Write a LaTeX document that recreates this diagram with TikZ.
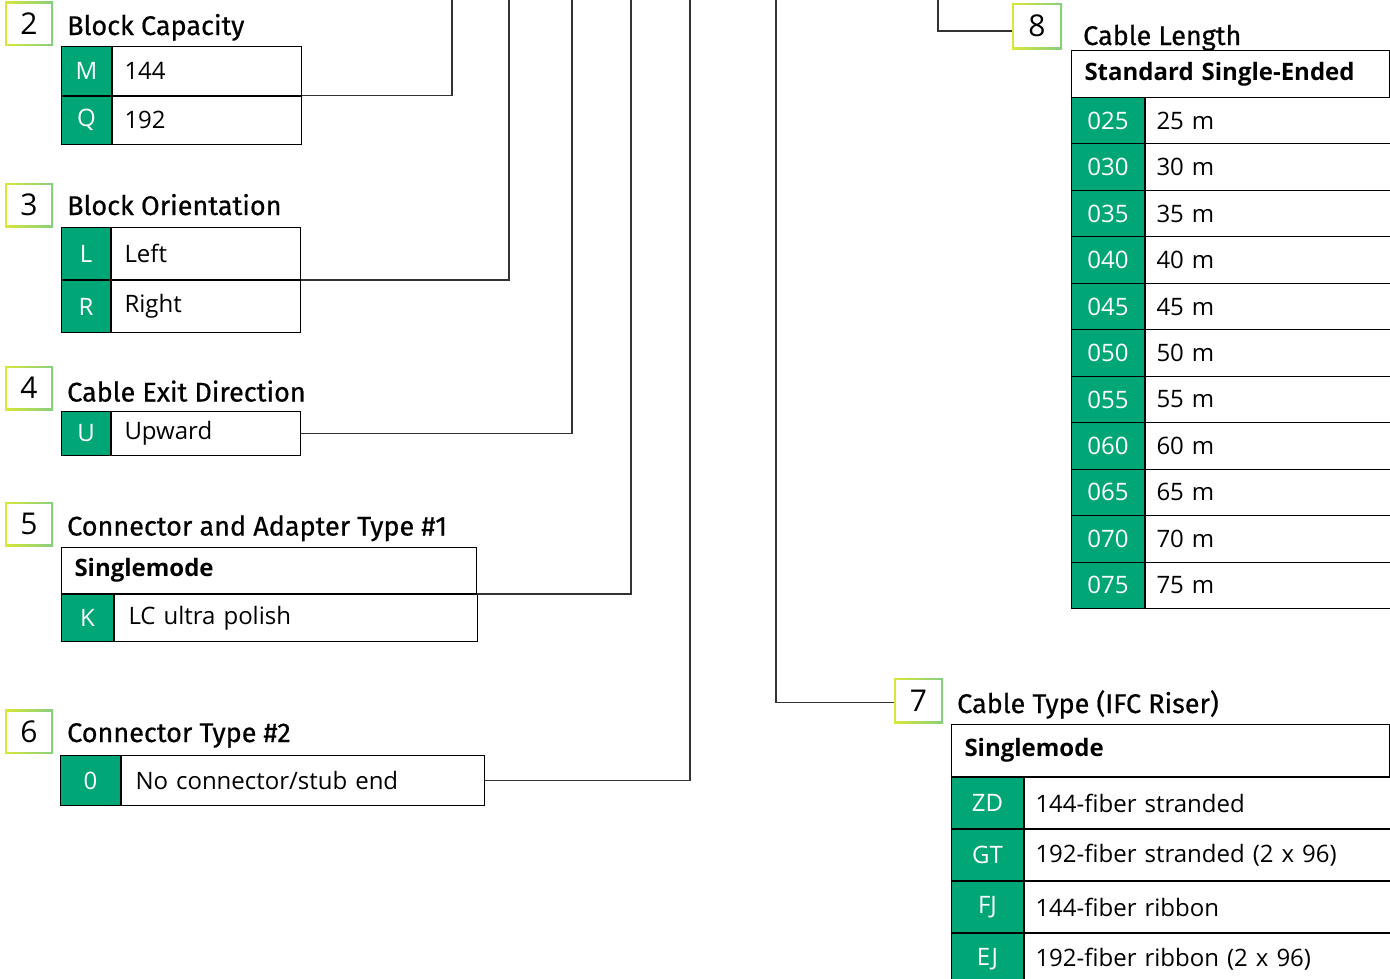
\documentclass[tikz,border=0pt]{standalone}
\usepackage{fontspec}
\setmainfont{Open Sans}
\newfontfamily\headfont[FakeBold=0.6]{Fira Sans}
\IfFontExistsTF{Open Sans SemiBold}{\newfontfamily\semifont{Open Sans SemiBold}}{\newcommand{\semifont}{\bfseries}}
\usepackage{tikz}
\usetikzlibrary{calc}

\definecolor{codegreen}{HTML}{00A676}
\definecolor{boxyellow}{HTML}{D8E838}
\definecolor{boxgreen}{HTML}{86CE80}
\definecolor{wiregray}{HTML}{333333}

\newcommand{\cellfont}{\fontsize{24}{28}\selectfont}
\newcommand{\numfont}{\fontsize{30}{34}\selectfont}
\newcommand{\titlefont}{\headfont\fontsize{27}{32}\selectfont}

\tikzset{
    numbox/.style={minimum width=48pt, minimum height=44pt, inner sep=0pt, font=\numfont,
        path picture={
            \shade[left color=boxyellow, right color=boxgreen]
                (path picture bounding box.south west) rectangle (path picture bounding box.north east);
            \fill[white] ([shift={(2pt,2pt)}]path picture bounding box.south west)
                rectangle ([shift={(-2pt,-2pt)}]path picture bounding box.north east);
        }},
    heading/.style={anchor=base west, inner sep=0pt, font=\titlefont},
    code/.style={draw=black, line width=1pt, fill=codegreen, text=white, anchor=north west,
        inner sep=0pt, font=\cellfont},
    entry/.style={draw=black, line width=1pt, anchor=north west, inner ysep=0pt,
        align=left, font=\cellfont},
    headrow/.style={entry, font=\semifont\cellfont},
    wire/.style={draw=wiregray, line width=1.3pt},
}

\begin{document}
\begin{tikzpicture}[x=1pt, y=-1pt]
    \useasboundingbox (0,0) rectangle (1390,978);

    % 2 - block capacity
    \node[numbox] (n2) at (29,23.5) {2};
    \node[heading] (h2) at (67,35) {Block Capacity};
    \node[code, minimum width=50pt, minimum height=48.5pt] (capM) at (61,46) {M};
    \node[entry, inner xsep=12pt, text width=165pt, minimum height=48.5pt] (capMtxt) at (capM.north east) {144};
    \node[code, minimum width=50pt, minimum height=48.5pt] (capQ) at (capM.south west) {Q};
    \node[entry, inner xsep=12pt, text width=165pt, minimum height=48.5pt] (capQtxt) at (capQ.north east) {192};

    % 3 - block orientation
    \node[numbox] (n3) at (29,205) {3};
    \node[heading] (h3) at (67,215) {Block Orientation};
    \node[code, minimum width=49pt, minimum height=52pt] (oriL) at (61,227) {L};
    \node[entry, inner xsep=13pt, text width=163pt, minimum height=52pt] (oriLtxt) at (oriL.north east) {Left};
    \node[code, minimum width=49pt, minimum height=52pt] (oriR) at (oriL.south west) {R};
    \node[entry, inner xsep=13pt, text width=163pt, minimum height=52pt] (oriRtxt) at (oriR.north east) {Right};

    % 4 - cable exit direction
    \node[numbox] (n4) at (29,388) {4};
    \node[heading] (h4) at (67,401.5) {Cable Exit Direction};
    \node[code, minimum width=49pt, minimum height=44pt] (exitU) at (61,411) {U};
    \node[entry, inner xsep=13pt, text width=163pt, minimum height=44pt] (exitUtxt) at (exitU.north east) {Upward};

    % 5 - connector and adapter type #1
    \node[numbox] (n5) at (29,524) {5};
    \node[heading] (h5) at (67,535.5) {Connector and Adapter Type \#1};
    \node[headrow, inner xsep=13pt, text width=389pt, minimum height=46pt] (conSM) at (61,547) {Singlemode};
    \node[code, minimum width=52pt, minimum height=47pt] (conK) at (conSM.south west) {K};
    \node[entry, inner xsep=14pt, text width=335pt, minimum height=47pt] (conKtxt) at (conK.north east) {LC ultra polish};

    % 6 - connector type #2
    \node[numbox] (n6) at (29,731.5) {6};
    \node[heading] (h6) at (67,742) {Connector Type \#2};
    \node[code, minimum width=60pt, minimum height=50pt] (stub0) at (60,755) {0};
    \node[entry, inner xsep=14pt, text width=335pt, minimum height=50pt] (stub0txt) at (stub0.north east) {No connector/stub end};

    % 7 - cable type
    \node[numbox, minimum width=49pt, minimum height=45pt] (n7) at (918.5,700.5) {7};
    \node[heading] (h7) at (957,713) {Cable Type (IFC Riser)};
    \node[headrow, inner xsep=13pt, text width=412pt, minimum height=52pt] (cabSM) at (951,724) {Singlemode};
    \node[code, minimum width=72pt, minimum height=51pt] (cabZD) at (cabSM.south west) {ZD};
    \node[entry, inner xsep=11pt, text width=344pt, minimum height=51pt] (cabZDtxt) at (cabZD.north east) {144-fiber stranded};
    \node[code, minimum width=72pt, minimum height=51pt] (cabGT) at (cabZD.south west) {GT};
    \node[entry, inner xsep=11pt, text width=344pt, minimum height=51pt] (cabGTtxt) at (cabGT.north east) {192-fiber stranded (2 x 96)};
    \node[code, minimum width=72pt, minimum height=51pt] (cabFJ) at (cabGT.south west) {FJ};
    \node[entry, inner xsep=11pt, text width=344pt, minimum height=51pt] (cabFJtxt) at (cabFJ.north east) {144-fiber ribbon};
    \node[code, minimum width=72pt, minimum height=51pt] (cabEJ) at (cabFJ.south west) {EJ};
    \node[entry, inner xsep=11pt, text width=344pt, minimum height=51pt] (cabEJtxt) at (cabEJ.north east) {192-fiber ribbon (2 x 96)};

    % 8 - cable length
    \node[numbox, minimum width=50pt, minimum height=46pt] (n8) at (1037,26) {8};
    \node[heading] (h8) at (1083,45) {Cable Length};
    \node[headrow, inner xsep=13pt, text width=292pt, minimum height=47pt] (lenStd) at (1071,50) {Standard Single-Ended};
    \foreach \c/\t [count=\i] in {025/25 m, 030/30 m, 035/35 m, 040/40 m, 045/45 m, 050/50 m,
                                  055/55 m, 060/60 m, 065/65 m, 070/70 m, 075/75 m} {
        \node[code, minimum width=73pt, minimum height=46.45pt] (len\i) at (1071,{97+(\i-1)*46.45}) {\c};
        \node[entry, inner xsep=11pt, text width=223pt, minimum height=46.45pt] (len\i txt) at (len\i.north east) {\t};
    }

    % connectors up to the part number
    \coordinate (top2) at (452,0);
    \coordinate (top3) at (509,0);
    \coordinate (top4) at (572,0);
    \coordinate (top5) at (631,0);
    \coordinate (top6) at (690,0);
    \coordinate (top7) at (776,0);
    \coordinate (top8) at (938,0);
    \draw[wire] (capMtxt.south east) -| (top2);
    \draw[wire] (oriLtxt.south east) -| (top3);
    \draw[wire] (exitUtxt.east) -| (top4);
    \draw[wire] (conSM.south east) -| (top5);
    \draw[wire] (stub0txt.east) -| (top6);
    \draw[wire] (top7) |- ([yshift=-2pt]n7.west);
    \draw[wire] (top8) |- ([yshift=-5pt]n8.west);
\end{tikzpicture}
\end{document}
